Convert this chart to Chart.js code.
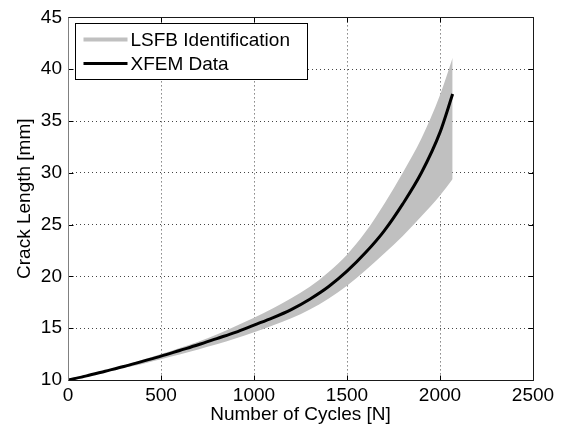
<!DOCTYPE html>
<html>
<head>
<meta charset="utf-8">
<script src="https://cdn.jsdelivr.net/npm/chart.js@4/dist/chart.umd.min.js"></script>
<style>
  html, body { margin: 0; padding: 0; background: #fff; }
  #wrap { width: 562px; height: 431px; }
</style>
</head>
<body>
<div id="wrap"><canvas id="crackChart" width="562" height="431"></canvas></div>
<script>
const cycles = [0, 100, 200, 300, 400, 500, 600, 700, 800, 900, 1000, 1100, 1200, 1300, 1400,
                1500, 1600, 1700, 1800, 1900, 2000, 2068];
// XFEM crack length [mm]
const xfemData = [10.0, 10.4, 10.85, 11.3, 11.8, 12.3, 12.85, 13.4, 14.0, 14.6, 15.3, 16.0, 16.8, 17.8, 19.0,
                  20.5, 22.3, 24.4, 27.0, 30.0, 33.9, 37.6];
// LSFB identification band, upper and lower bound [mm]
const lsfbUpper = [10.1, 10.5, 10.95, 11.4, 11.95, 12.5, 13.1, 13.7, 14.4, 15.2, 16.0, 16.9, 17.9, 19.0, 20.4,
                   22.1, 24.3, 27.0, 30.0, 33.3, 37.5, 41.1];
const lsfbLower = [10.0, 10.35, 10.75, 11.15, 11.55, 12.0, 12.45, 12.95, 13.45, 14.0, 14.6, 15.25, 15.95, 16.8, 17.85,
                   19.1, 20.6, 22.2, 23.9, 25.8, 27.8, 29.4];

const xTicks = [0, 500, 1000, 1500, 2000, 2500];
const yTicks = [10, 15, 20, 25, 30, 35, 40, 45];

const toPoints = (ys) => cycles.map((c, i) => ({ x: c, y: ys[i] }));

const font = { family: 'Liberation Sans, Arial, sans-serif', size: 19 };
const bandColor = '#c0c0c0';

// matlab style box, inward tick marks and legend
const matlabAxes = {
    id: 'matlabAxes',
    afterDraw(chart) {
        const ctx = chart.ctx;
        const a = chart.chartArea;
        const xs = chart.scales.x, ys = chart.scales.y;
        const L = Math.round(a.left) + 0.5, R = Math.round(a.right) + 0.5;
        const T = Math.round(a.top) + 0.5, B = Math.round(a.bottom) + 0.5;
        ctx.save();
        ctx.lineWidth = 1;

        // tick marks pointing inward
        ctx.strokeStyle = '#000';
        ctx.beginPath();
        xTicks.forEach(v => {
            const px = Math.round(xs.getPixelForValue(v)) + 0.5;
            ctx.moveTo(px, B); ctx.lineTo(px, B - 5);
            ctx.moveTo(px, T); ctx.lineTo(px, T + 5);
        });
        yTicks.forEach(v => {
            const py = Math.round(ys.getPixelForValue(v)) + 0.5;
            ctx.moveTo(L, py); ctx.lineTo(L + 5, py);
            ctx.moveTo(R, py); ctx.lineTo(R - 5, py);
        });
        ctx.stroke();

        // box
        ctx.strokeStyle = '#1a1a1a';
        ctx.beginPath();
        ctx.moveTo(L, T); ctx.lineTo(R, T); ctx.lineTo(R, B); ctx.lineTo(L, B);
        ctx.stroke();
        ctx.strokeStyle = '#808080';
        ctx.beginPath();
        ctx.moveTo(L, T); ctx.lineTo(L, B);
        ctx.stroke();

        // legend
        const bx = Math.round(a.left) + 7.5, by = Math.round(a.top) + 6.5;
        const bw = 232, bh = 56;
        ctx.fillStyle = '#fff';
        ctx.fillRect(bx, by, bw, bh);
        ctx.strokeStyle = '#000';
        ctx.strokeRect(bx, by, bw, bh);
        const items = [
            { text: chart.data.datasets[0].label, color: bandColor, width: 4 },
            { text: chart.data.datasets[2].label, color: '#000', width: 3 }
        ];
        ctx.font = font.size + 'px ' + font.family;
        ctx.textBaseline = 'middle';
        items.forEach((it, i) => {
            const ly = by + 16 + i * 24;
            ctx.strokeStyle = it.color;
            ctx.lineWidth = it.width;
            ctx.beginPath();
            ctx.moveTo(bx + 8, ly); ctx.lineTo(bx + 52, ly);
            ctx.stroke();
            ctx.fillStyle = '#000';
            ctx.fillText(it.text, bx + 55, ly + 1);
        });
        ctx.restore();
    }
};

new Chart(document.getElementById('crackChart'), {
    type: 'line',
    data: {
        datasets: [{
            label: 'LSFB Identification',
            data: toPoints(lsfbUpper),
            borderWidth: 0,
            borderColor: bandColor,
            backgroundColor: bandColor,
            fill: '+1',
            pointRadius: 0,
            cubicInterpolationMode: 'monotone',
            order: 2
        }, {
            label: 'LSFB lower',
            data: toPoints(lsfbLower),
            borderWidth: 0,
            borderColor: bandColor,
            backgroundColor: bandColor,
            fill: false,
            pointRadius: 0,
            cubicInterpolationMode: 'monotone',
            order: 1
        }, {
            label: 'XFEM Data',
            data: toPoints(xfemData),
            borderWidth: 3,
            borderColor: '#000',
            fill: false,
            pointRadius: 0,
            cubicInterpolationMode: 'monotone',
            order: 0
        }]
    },
    options: {
        responsive: false,
        animation: false,
        layout: { padding: { top: 16, right: 29, left: 0, bottom: 0 } },
        plugins: {
            legend: { display: false },
            tooltip: { enabled: false }
        },
        scales: {
            x: {
                type: 'linear',
                min: 0,
                max: 2500,
                afterBuildTicks(s) { s.ticks = xTicks.map(v => ({ value: v })); },
                afterFit(s) { s.height = 51; },
                grid: { color: '#444', drawTicks: false },
                border: { display: false, dash: [1, 3] },
                ticks: {
                    color: '#000', font: font, padding: 4, maxRotation: 0,
                    callback: (v) => String(v)
                },
                title: {
                    display: true,
                    text: 'Number of Cycles [N]',
                    color: '#000',
                    font: font,
                    padding: { top: 0, bottom: 5 }
                }
            },
            y: {
                min: 10,
                max: 45,
                afterBuildTicks(s) { s.ticks = yTicks.map(v => ({ value: v })); },
                afterFit(s) { s.width = 68; },
                grid: { color: '#444', drawTicks: false },
                border: { display: false, dash: [1, 3] },
                ticks: { color: '#000', font: font, padding: 6, callback: (v) => String(v) },
                title: {
                    display: true,
                    text: 'Crack Length [mm]',
                    color: '#000',
                    font: font,
                    padding: { top: 13, bottom: 0 }
                }
            }
        }
    },
    plugins: [matlabAxes]
});
</script>
</body>
</html>
